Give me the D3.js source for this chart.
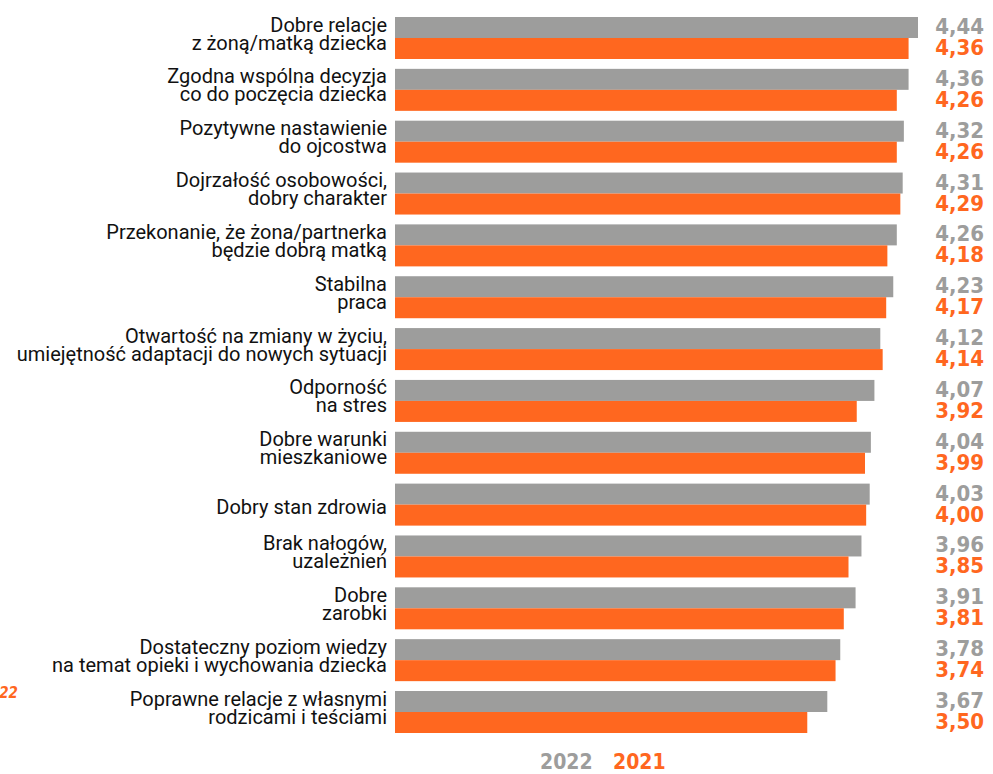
<!DOCTYPE html>
<html>
<head>
<meta charset="utf-8">
<script src="https://cdn.jsdelivr.net/npm/d3@7"></script>
<style>
  body { margin: 0; background: #fff; }
  svg { display: block; }
</style>
</head>
<body>
<div id="chart-area"></div>
<script>
var labels = [
  ['Dobre relacje', 'z żoną/matką dziecka'],
  ['Zgodna wspólna decyzja', 'co do poczęcia dziecka'],
  ['Pozytywne nastawienie', 'do ojcostwa'],
  ['Dojrzałość osobowości,', 'dobry charakter'],
  ['Przekonanie, że żona/partnerka', 'będzie dobrą matką'],
  ['Stabilna', 'praca'],
  ['Otwartość na zmiany w życiu,', 'umiejętność adaptacji do nowych sytuacji'],
  ['Odporność', 'na stres'],
  ['Dobre warunki', 'mieszkaniowe'],
  ['Dobry stan zdrowia'],
  ['Brak nałogów,', 'uzależnień'],
  ['Dobre', 'zarobki'],
  ['Dostateczny poziom wiedzy', 'na temat opieki i wychowania dziecka'],
  ['Poprawne relacje z własnymi', 'rodzicami i teściami']
];
var values2022 = [4.44, 4.36, 4.32, 4.31, 4.26, 4.23, 4.12, 4.07, 4.04, 4.03, 3.96, 3.91, 3.78, 3.67];
var values2021 = [4.36, 4.26, 4.26, 4.29, 4.18, 4.17, 4.14, 3.92, 3.99, 4.00, 3.85, 3.81, 3.74, 3.50];
var years = ['2022', '2021'];

var width = 993, height = 774;
var gray = '#9d9d9c', orange = '#ff671f';
var numFont = '"DejaVu Sans Condensed", "DejaVu Sans", sans-serif';

var svg = d3.select('#chart-area')
  .append('svg')
  .attr('width', width)
  .attr('height', height);

// Scales
var x = d3.scaleLinear()
  .domain([0, 4.44])
  .range([395, 918]);

var y = d3.scaleBand()
  .domain(d3.range(labels.length))
  .range([17, 733])
  .paddingInner(0.19);

var sub = d3.scaleBand()
  .domain(years)
  .range([0, y.bandwidth()]);

var color = d3.scaleOrdinal()
  .domain(years)
  .range([gray, orange]);

var rows = labels.map(function(l, i) {
  return { i: i, lines: l, v: { '2022': values2022[i], '2021': values2021[i] } };
});

var groups = svg.selectAll('g.row')
  .data(rows)
  .enter()
  .append('g')
    .attr('class', 'row')
    .attr('transform', function(d) { return 'translate(0,' + y(d.i) + ')'; });

// Bars
groups.selectAll('rect')
  .data(function(d) {
    return years.map(function(k) { return { k: k, v: d.v[k] }; });
  })
  .enter()
  .append('rect')
    .attr('x', x(0))
    .attr('y', function(d) { return sub(d.k); })
    .attr('width', function(d) { return x(d.v) - x(0); })
    .attr('height', sub.bandwidth())
    .attr('fill', function(d) { return color(d.k); });

// Category labels
groups.append('text')
  .attr('text-anchor', 'end')
  .attr('font-family', 'Roboto, sans-serif')
  .attr('font-size', '20px')
  .attr('fill', '#111')
  .each(function(d) {
    var t = d3.select(this);
    if (d.lines.length === 1) {
      t.append('tspan').attr('x', 387).attr('y', 30).text(d.lines[0]);
    } else {
      t.append('tspan').attr('x', 387).attr('y', 14.5).text(d.lines[0]);
      t.append('tspan').attr('x', 387).attr('y', 32.5).text(d.lines[1]);
    }
  });

// Value labels
groups.selectAll('text.val')
  .data(function(d) {
    return years.map(function(k) { return { k: k, v: d.v[k] }; });
  })
  .enter()
  .append('text')
    .attr('class', 'val')
    .attr('x', 984)
    .attr('y', function(d) { return d.k === '2022' ? 17 : 38; })
    .attr('text-anchor', 'end')
    .attr('font-family', numFont)
    .attr('font-weight', 'bold')
    .attr('font-size', '22px')
    .attr('fill', function(d) { return color(d.k); })
    .text(function(d) { return d3.format('.2f')(d.v).replace('.', ','); });

// Legend
var legend = svg.append('text')
  .attr('y', 769)
  .attr('font-family', numFont)
  .attr('font-weight', 'bold')
  .attr('font-size', '21px');

legend.append('tspan').attr('x', 540).attr('fill', gray).text(years[0]);
legend.append('tspan').attr('x', 613).attr('fill', orange).text(years[1]);

// clipped fragment at left edge
svg.append('text')
  .attr('x', 18)
  .attr('y', 698)
  .attr('text-anchor', 'end')
  .attr('font-family', numFont)
  .attr('font-weight', 'bold')
  .attr('font-style', 'italic')
  .attr('font-size', '15px')
  .attr('fill', orange)
  .text('2022');
</script>
</body>
</html>
